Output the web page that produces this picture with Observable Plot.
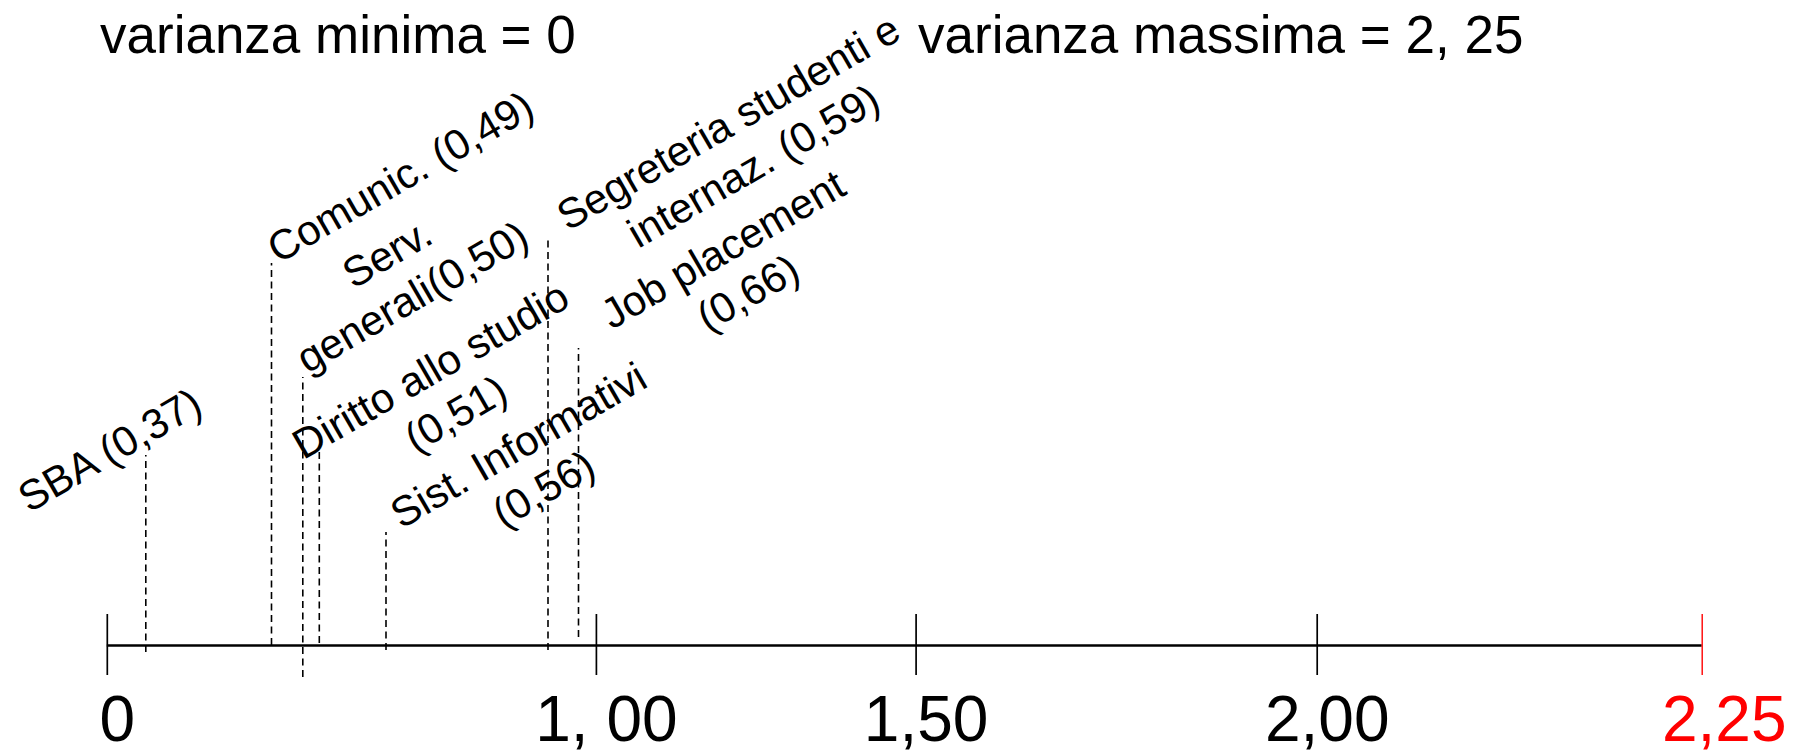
<!DOCTYPE html>
<html>
<head>
<meta charset="utf-8">
<script src="https://cdn.jsdelivr.net/npm/d3@7"></script>
<script src="https://cdn.jsdelivr.net/npm/@observablehq/plot@0.6"></script>
<style>
  html, body { margin: 0; padding: 0; background: #ffffff; }
  #wrap { width: 1805px; height: 755px; position: relative; overflow: hidden;
          font-family: "Liberation Sans", Arial, sans-serif; }
  #chart { position: absolute; left: 0; top: 0; }
  #chart svg { display: block; overflow: visible; }
  .title { position: absolute; top: 8px; font-size: 53px; line-height: 53px;
           color: #000; white-space: nowrap; z-index: 2; }
  #t1 { left: 100px; }
  #t2 { left: 918px; }
</style>
</head>
<body>
<div id="wrap">
  <div id="chart"></div>
  <span class="title" id="t1"></span><span class="title" id="t2"></span>
</div>
<script>
// ---------- data ----------
const titleMin = "varianza minima = 0";
const titleMax = "varianza massima = 2, 25";
const minVariance = 0;
const maxVariance = 2.25;

const services = ["SBA", "Comunic.", "Serv. generali", "Diritto allo studio",
                  "Sist. Informativi", "Segreteria studenti e internaz.", "Job placement"];
const variances = [0.37, 0.49, 0.50, 0.51, 0.56, 0.59, 0.66];
const serviceLabels = [
  "SBA (0,37)",
  "Comunic. (0,49)",
  "Serv.\ngenerali(0,50)",
  "Diritto allo studio\n(0,51)",
  "Sist. Informativi\n(0,56)",
  "Segreteria studenti e\ninternaz. (0,59)",
  "Job placement\n(0,66)"
];

const tickValues = [0, 1, 1.5, 2, 2.25];
const tickLabels = ["0", "1, 00", "1,50", "2,00", "2,25"];

// ---------- layout of the (schematic, non-linear) number line ----------
const xDomain = [0, ...variances, 1, 1.5, 2, 2.25];
const xRange  = [106.8, 145.3, 271, 302.3, 318.8, 385.5, 547.5, 578, 595.9, 915.6, 1316.7, 1701.7];
// leader lines: height above the axis (px units of the y scale)
const leaderTop    = [190, 382, 268, 198, 113, 407, 297];
const leaderBottom = [-7, 0, -32, 2, -5, -5, 8];
// label block centres: offset from the leader, height above the axis
const labelDx     = [-37, 128, 96, 123, 144, 192, 156];
const labelHeight = [197, 470, 372, 255, 180, 503, 376];

document.getElementById("t1").textContent = titleMin;
document.getElementById("t2").textContent = titleMax;

const rows = services.map((name, i) => ({
  name, variance: variances[i], label: serviceLabels[i],
  top: leaderTop[i], bottom: leaderBottom[i]
}));

const font = "Liberation Sans, Arial, sans-serif";
const blackTicks = tickValues.filter(v => v !== maxVariance);
const redTicks = tickValues.filter(v => v === maxVariance);
const tickText = v => tickLabels[tickValues.indexOf(v)];

const chart = Plot.plot({
  width: 1805,
  height: 755,
  margin: 0,
  style: { fontFamily: font, background: "transparent", color: "#000", overflow: "visible" },
  x: { type: "linear", domain: xDomain, range: xRange, axis: null },
  y: { type: "linear", domain: [-110, 645], axis: null },
  marks: [
    // axis line
    Plot.ruleY([0], { x1: minVariance, x2: maxVariance, stroke: "#000", strokeWidth: 2.5 }),
    // ticks
    Plot.ruleX(blackTicks, { x: d => d, y1: -30, y2: 31, stroke: "#000", strokeWidth: 1.7 }),
    Plot.ruleX(redTicks, { x: d => d, y1: -30, y2: 31, stroke: "#ff0000", strokeWidth: 1.4 }),
    // dashed leaders
    Plot.ruleX(rows, { x: "variance", y1: "bottom", y2: "top", stroke: "#000",
                       strokeWidth: 1.6, strokeDasharray: "7,4.5" }),
    // rotated labels
    ...rows.map((r, i) => Plot.text([r], {
      x: "variance", y: labelHeight[i], dx: labelDx[i], text: "label",
      rotate: -30, fontSize: 42, lineHeight: 1.2, fontFamily: font,
      textAnchor: "middle", lineAnchor: "middle", fill: "#000"
    })),
    // tick labels
    Plot.text(blackTicks, { x: d => d, y: -95, dx: 10, text: tickText, fontSize: 64,
                            fontFamily: font, lineAnchor: "bottom", textAnchor: "middle", fill: "#000" }),
    Plot.text(redTicks, { x: d => d, y: -95, dx: 22, text: tickText, fontSize: 64,
                          fontFamily: font, lineAnchor: "bottom", textAnchor: "middle", fill: "#ff0000" })
  ]
});
document.getElementById("chart").appendChild(chart);
</script>
</body>
</html>
